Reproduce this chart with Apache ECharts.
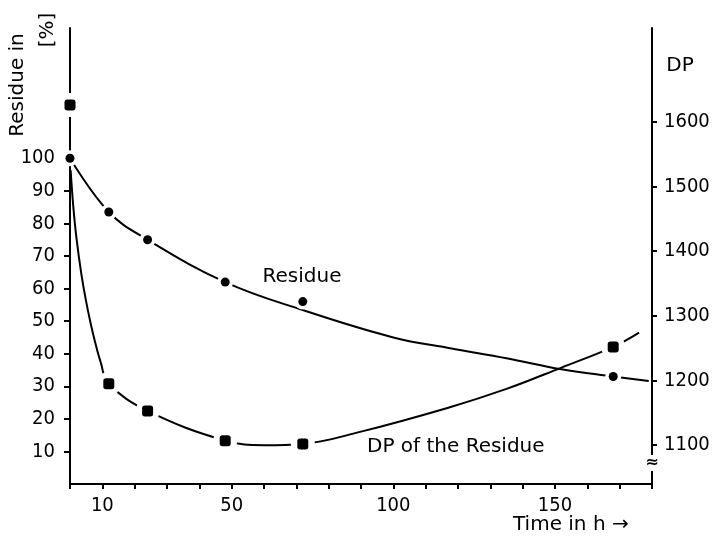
<!DOCTYPE html>
<html><head><meta charset="utf-8">
<script src="https://cdn.jsdelivr.net/npm/echarts@6/dist/echarts.min.js"></script>
<style>html,body{margin:0;padding:0;background:#fff}#c{width:715px;height:537px}</style>
</head><body><div id="c"></div>
<script>
// ---- data ----
const xTickLabels = [10, 50, 100, 150];
const residueTicks = [10, 20, 30, 40, 50, 60, 70, 80, 90, 100];
const dpTicks = [1100, 1200, 1300, 1400, 1500, 1600];
// measured points: [time h, residue %]
const residuePoints = [[0, 100], [12, 83.5], [24, 75], [48, 62], [72, 56], [168, 33]];
// drawn fit curve
const residueCurve = [[0, 100], [12, 83.5], [24, 75], [48, 62], [72, 53.4], [100, 45], [118, 41.6], [135, 38.6], [152, 35.2], [168, 33], [179, 31.6]];
// measured points: [time h, DP]
const dpPoints = [[0, 1626], [12, 1195], [24, 1153], [48, 1107], [72, 1102], [168, 1252]];
// drawn fit curve
const dpCurve = [[0.2, 1525], [1, 1470], [2, 1420], [3.5, 1365], [5, 1322], [7, 1275], [9.5, 1228], [12, 1195], [24, 1153], [48, 1107], [60, 1100], [72, 1102], [90, 1121], [117, 1158], [135, 1187], [152, 1220], [168, 1252], [176, 1274]];

const wordFont = "'DejaVu Sans', sans-serif";
const numFont = "'DejaVu Sans Condensed', 'DejaVu Sans', sans-serif";
const chart = echarts.init(document.getElementById('c'), null, {renderer: 'canvas'});
const axisLine = {show: true, lineStyle: {color: '#000', width: 2}};
const plain = v => String(v);
const option = {
  backgroundColor: '#fff',
  animation: false,
  grid: {left: 70, right: 63, top: 28, bottom: 53, containLabel: false, outerBoundsMode: 'none'},
  xAxis: {
    type: 'value', min: 0, max: 180, interval: 10,
    axisLine: axisLine,
    axisTick: {show: true, length: 5, lineStyle: {color: '#000', width: 2}},
    axisLabel: {customValues: xTickLabels, formatter: plain, margin: 12, color: '#000', fontSize: 20, fontFamily: numFont},
    splitLine: {show: false}
  },
  yAxis: [{
    type: 'value', min: 0, max: 140, interval: 10, position: 'left',
    axisLine: axisLine,
    axisTick: {show: true, length: 6, customValues: residueTicks, lineStyle: {color: '#000', width: 2}},
    axisLabel: {customValues: residueTicks, formatter: plain, margin: 15, color: '#000', fontSize: 20, fontFamily: numFont},
    splitLine: {show: false}
  }, {
    type: 'value', min: 1040, max: 1745, position: 'right',
    axisLine: axisLine,
    axisTick: {show: true, length: 5, customValues: dpTicks, lineStyle: {color: '#000', width: 2}},
    axisLabel: {customValues: dpTicks, formatter: plain, margin: 12, color: '#000', fontSize: 20, fontFamily: numFont},
    splitLine: {show: false}
  }],
  series: [
    {type: 'line', name: 'Residue curve', yAxisIndex: 0, data: residueCurve, smooth: 0.4, symbol: 'none',
      lineStyle: {color: '#000', width: 2}, z: 2, silent: true},
    {type: 'line', name: 'DP curve', yAxisIndex: 1, data: dpCurve, smooth: 0.4, symbol: 'none',
      lineStyle: {color: '#000', width: 2}, z: 2, silent: true},
    {type: 'scatter', name: 'haloA', yAxisIndex: 0, data: residuePoints, symbol: 'circle', symbolSize: 16, clip: false,
      itemStyle: {color: '#fff', opacity: 1}, z: 3, silent: true},
    {type: 'scatter', name: 'haloB', yAxisIndex: 1, data: dpPoints, symbol: 'circle', symbolSize: 24, clip: false,
      itemStyle: {color: '#fff', opacity: 1}, z: 3, silent: true},
    {type: 'scatter', name: 'Residue', yAxisIndex: 0, data: residuePoints, symbol: 'circle', symbolSize: 9, clip: false,
      itemStyle: {color: '#000', opacity: 1}, z: 4},
    {type: 'scatter', name: 'DP of the Residue', yAxisIndex: 1, data: dpPoints, symbol: 'roundRect', symbolSize: 11, clip: false,
      itemStyle: {color: '#000', opacity: 1}, z: 4}
  ],
  graphic: [
    {type: 'text', x: 18, y: 85, rotation: Math.PI / 2, z: 10,
      style: {text: 'Residue in', font: '20px ' + wordFont, fill: '#000', textAlign: 'center', textVerticalAlign: 'middle'}},
    {type: 'text', x: 48, y: 30, rotation: Math.PI / 2, z: 10,
      style: {text: '[%]', font: '20px ' + wordFont, fill: '#000', textAlign: 'center', textVerticalAlign: 'middle'}},
    {type: 'text', x: 680, y: 66, z: 10,
      style: {text: 'DP', font: '20px ' + wordFont, fill: '#000', textAlign: 'center', textVerticalAlign: 'middle'}},
    {type: 'text', x: 302, y: 277, z: 10,
      style: {text: 'Residue', font: '20px ' + wordFont, fill: '#000', textAlign: 'center', textVerticalAlign: 'middle'}},
    {type: 'text', x: 367, y: 447, z: 10,
      style: {text: 'DP of the Residue', font: '20px ' + wordFont, fill: '#000', textAlign: 'left', textVerticalAlign: 'middle'}},
    {type: 'text', x: 513, y: 525, z: 10,
      style: {text: 'Time in h \u2192', font: '20px ' + wordFont, fill: '#000', textAlign: 'left', textVerticalAlign: 'middle'}},
    {type: 'text', x: 652, y: 463, z: 10,
      style: {text: '\u2248', font: 'bold 16px ' + wordFont, fill: '#000', textAlign: 'center', textVerticalAlign: 'middle',
        backgroundColor: '#fff'}}
  ]
};
chart.setOption(option);
</script>
</body></html>
